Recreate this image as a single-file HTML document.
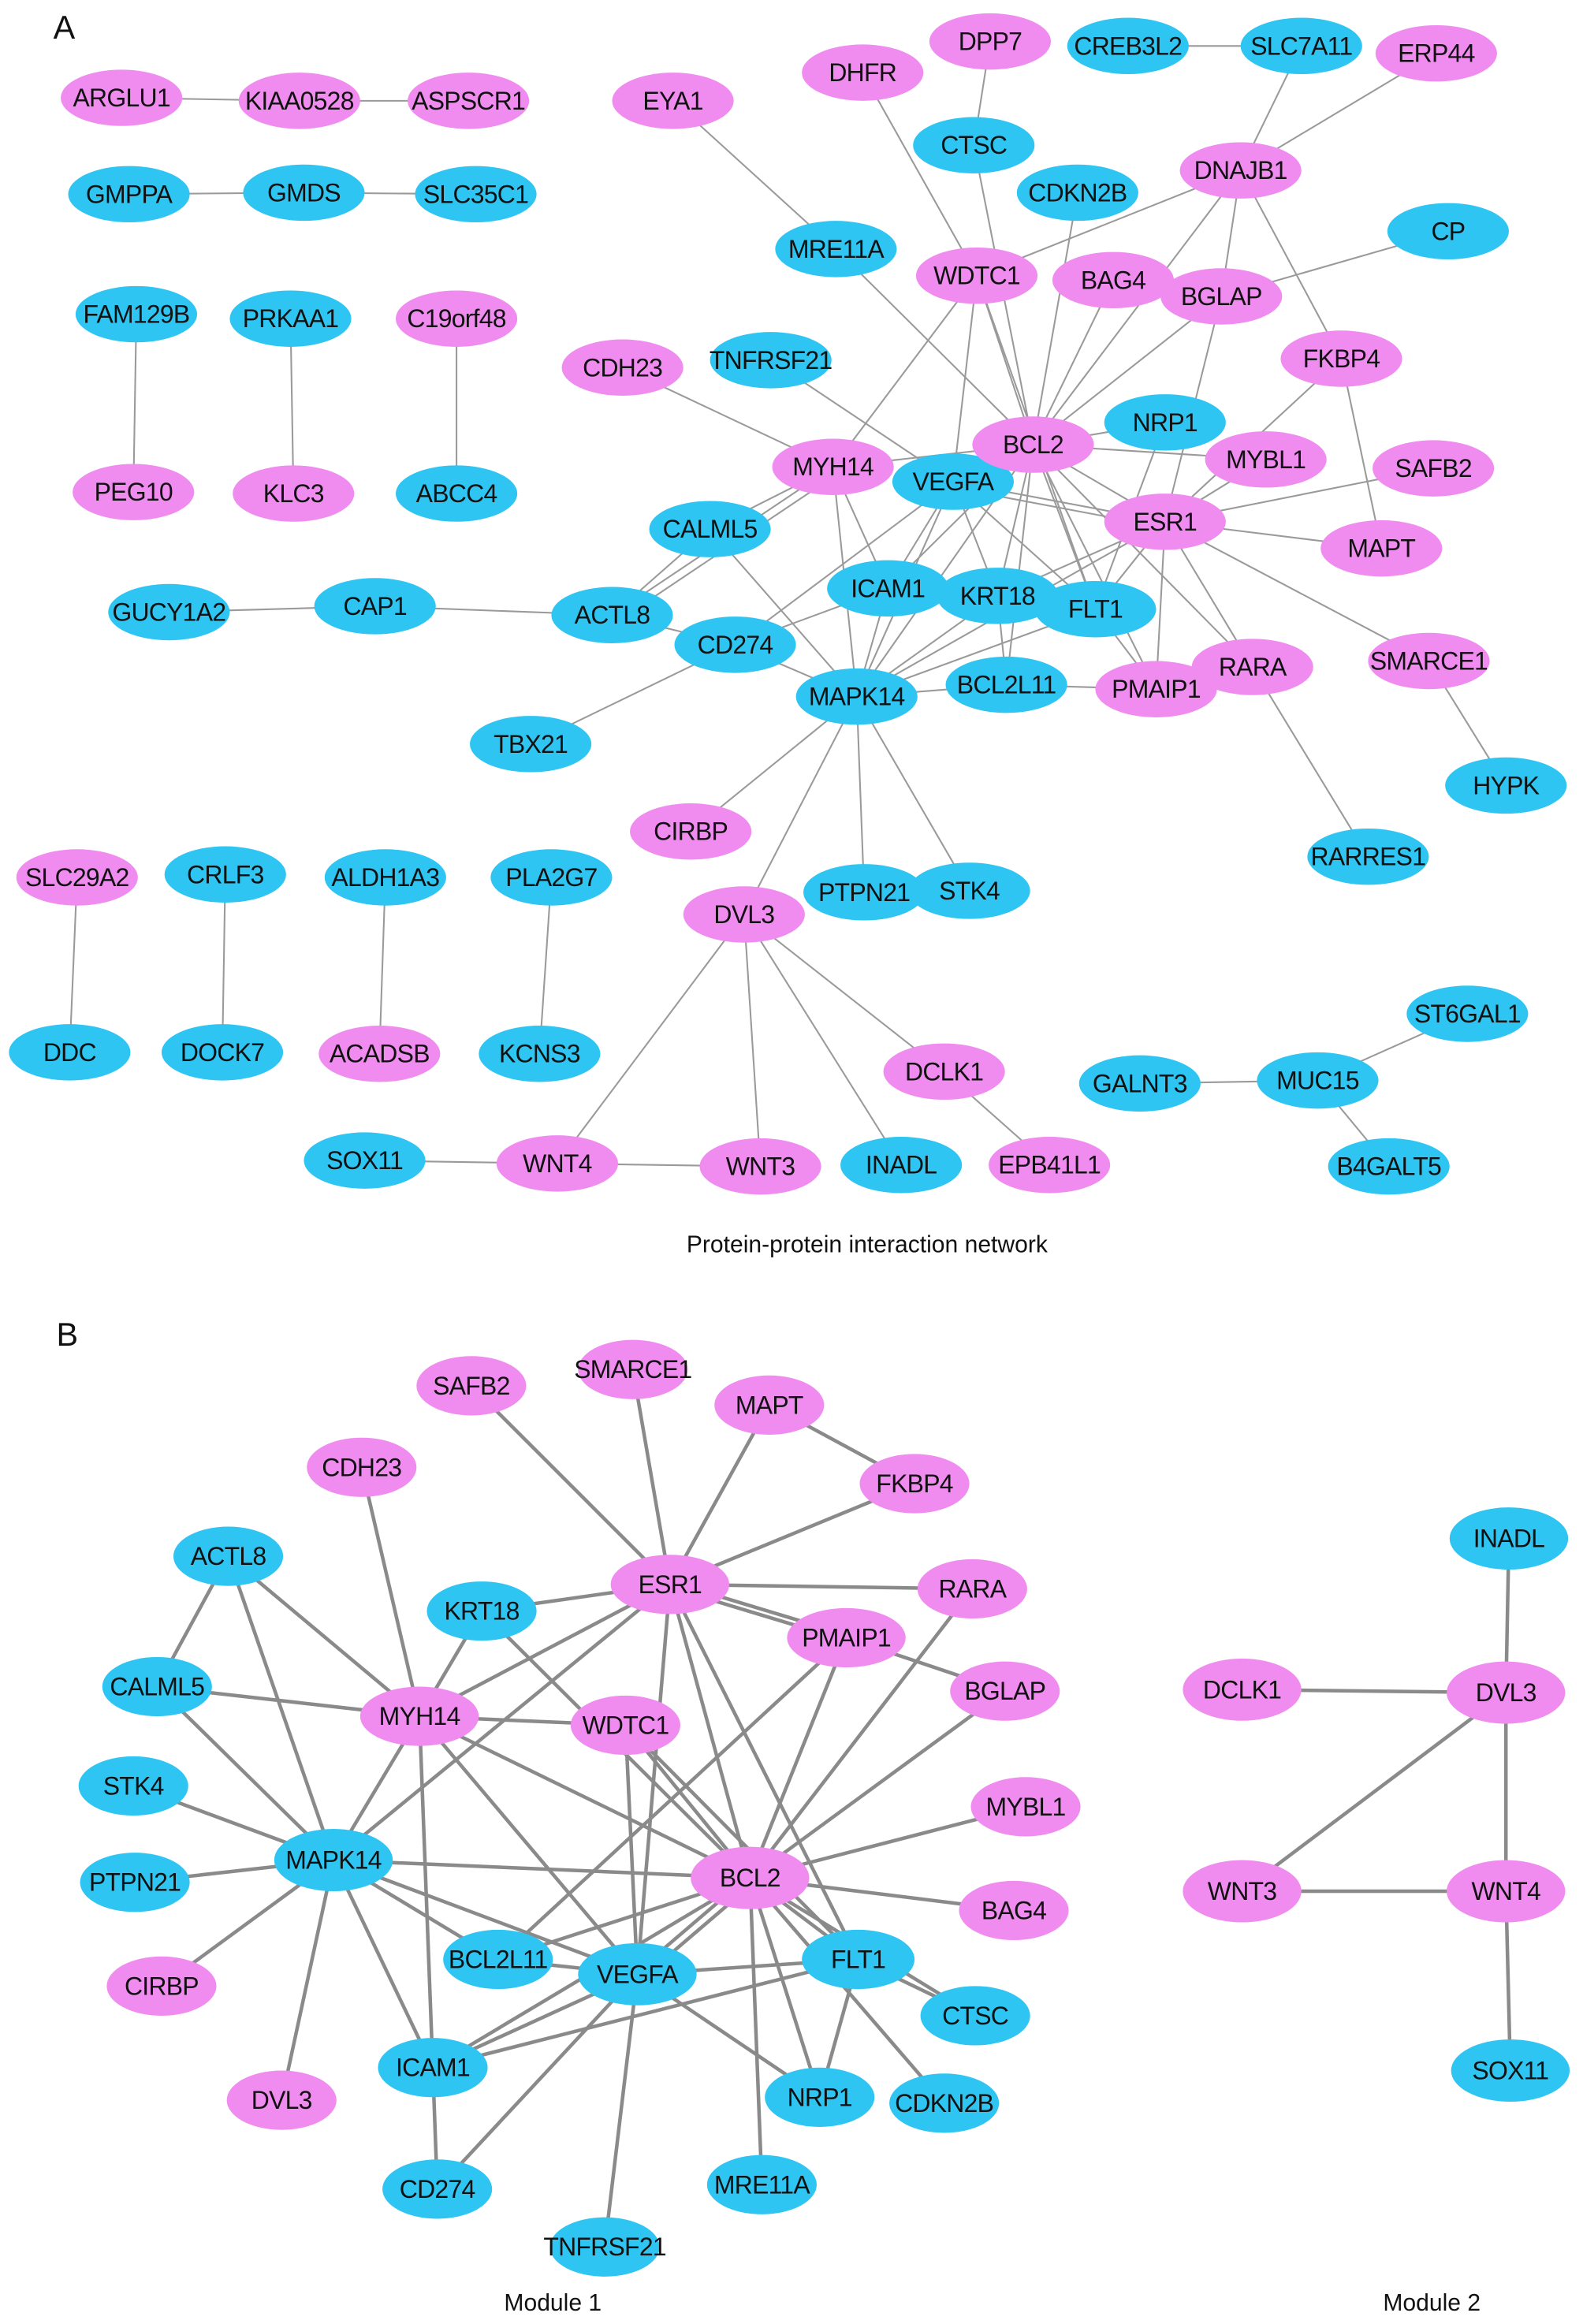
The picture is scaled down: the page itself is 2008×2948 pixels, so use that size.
<!DOCTYPE html>
<html><head><meta charset="utf-8"><style>
html,body{margin:0;padding:0;background:#fff;}
svg{display:block;}
text{font-family:"Liberation Sans",Arial,sans-serif;fill:#111;}
.n text{font-size:17px;text-anchor:middle;dominant-baseline:central;letter-spacing:-0.4px;}
.p{fill:#f08cf0;}
.b{fill:#2ec5f2;}
</style></head><body>
<svg width="2008" height="2948" viewBox="0 0 1068 1568" preserveAspectRatio="none" xmlns="http://www.w3.org/2000/svg">
<text x="36" y="26" font-size="22">A</text>
<text x="38" y="908" font-size="22">B</text>
<text x="585" y="845" font-size="16" text-anchor="middle">Protein-protein interaction network</text>
<text x="373" y="1559" font-size="16" text-anchor="middle">Module 1</text>
<text x="966" y="1559" font-size="16" text-anchor="middle">Module 2</text>

<g stroke="#9a9a9a" stroke-width="1.1">
<line x1="82" y1="66" x2="202" y2="68"/><line x1="202" y1="68" x2="316" y2="68"/>
<line x1="87" y1="131" x2="205" y2="130"/><line x1="205" y1="130" x2="321" y2="131"/>
<line x1="92" y1="212" x2="90" y2="332"/><line x1="196" y1="215" x2="198" y2="333"/><line x1="308" y1="215" x2="308" y2="333"/>
<line x1="761" y1="31" x2="878" y2="31"/><line x1="878" y1="31" x2="837" y2="115"/><line x1="969" y1="36" x2="837" y2="115"/>
<line x1="668" y1="28" x2="657" y2="98"/><line x1="454" y1="68" x2="564" y2="168"/><line x1="564" y1="168" x2="697" y2="300"/>
<line x1="582" y1="49" x2="659" y2="186"/><line x1="657" y1="98" x2="697" y2="300"/><line x1="727" y1="130" x2="697" y2="300"/>
<line x1="837" y1="115" x2="659" y2="186"/><line x1="837" y1="115" x2="697" y2="300"/><line x1="837" y1="115" x2="824" y2="200"/><line x1="837" y1="115" x2="905" y2="242"/>
<line x1="977" y1="156" x2="824" y2="200"/>
<line x1="659" y1="186" x2="697" y2="300"/><line x1="659" y1="186" x2="562" y2="315"/><line x1="659" y1="186" x2="643" y2="325"/><line x1="659" y1="186" x2="739" y2="411"/>
<line x1="751" y1="189" x2="697" y2="300"/><line x1="824" y1="200" x2="697" y2="300"/><line x1="824" y1="200" x2="786" y2="352"/>
<line x1="905" y1="242" x2="786" y2="352"/><line x1="905" y1="242" x2="932" y2="370"/>
<line x1="420" y1="248" x2="562" y2="315"/><line x1="520" y1="243" x2="643" y2="325"/>
<line x1="786" y1="285" x2="697" y2="300"/><line x1="786" y1="285" x2="739" y2="411"/>
<line x1="697" y1="300" x2="854" y2="310"/><line x1="697" y1="300" x2="643" y2="325"/><line x1="697" y1="300" x2="786" y2="352"/>
<line x1="697" y1="300" x2="578" y2="470"/><line x1="697" y1="300" x2="599" y2="397"/><line x1="697" y1="300" x2="673" y2="402"/>
<line x1="697" y1="300" x2="739" y2="411"/><line x1="697" y1="300" x2="679" y2="462"/><line x1="697" y1="300" x2="780" y2="465"/>
<line x1="697" y1="300" x2="845" y2="450"/><line x1="697" y1="300" x2="562" y2="315"/>
<line x1="967" y1="316" x2="786" y2="352"/><line x1="932" y1="370" x2="786" y2="352"/>
<line x1="786" y1="352" x2="643" y2="325"/><line x1="786" y1="356" x2="643" y2="329"/>
<line x1="786" y1="352" x2="673" y2="402"/><line x1="786" y1="352" x2="739" y2="411"/><line x1="786" y1="352" x2="780" y2="465"/>
<line x1="786" y1="352" x2="845" y2="450"/><line x1="786" y1="352" x2="964" y2="446"/><line x1="786" y1="352" x2="578" y2="470"/>
<line x1="854" y1="310" x2="786" y2="352"/>
<line x1="562" y1="315" x2="479" y2="357"/><line x1="562" y1="315" x2="413" y2="415"/><line x1="566" y1="319" x2="417" y2="419"/>
<line x1="562" y1="315" x2="599" y2="397"/><line x1="562" y1="315" x2="578" y2="470"/>
<line x1="643" y1="325" x2="578" y2="470"/><line x1="643" y1="325" x2="496" y2="435"/><line x1="643" y1="325" x2="599" y2="397"/>
<line x1="643" y1="325" x2="739" y2="411"/><line x1="643" y1="325" x2="673" y2="402"/>
<line x1="479" y1="357" x2="413" y2="415"/><line x1="479" y1="357" x2="578" y2="470"/>
<line x1="114" y1="413" x2="253" y2="409"/><line x1="253" y1="409" x2="413" y2="415"/>
<line x1="413" y1="415" x2="496" y2="435"/><line x1="496" y1="435" x2="578" y2="470"/><line x1="496" y1="435" x2="358" y2="502"/><line x1="496" y1="435" x2="599" y2="397"/>
<line x1="599" y1="397" x2="578" y2="470"/><line x1="673" y1="402" x2="578" y2="470"/><line x1="739" y1="411" x2="578" y2="470"/>
<line x1="673" y1="402" x2="679" y2="462"/><line x1="578" y1="470" x2="679" y2="462"/><line x1="679" y1="462" x2="780" y2="465"/>
<line x1="739" y1="411" x2="780" y2="465"/>
<line x1="964" y1="446" x2="1016" y2="530"/><line x1="845" y1="450" x2="923" y2="578"/>
<line x1="578" y1="470" x2="466" y2="561"/><line x1="578" y1="470" x2="502" y2="617"/><line x1="578" y1="470" x2="583" y2="602"/><line x1="578" y1="470" x2="654" y2="601"/>
<line x1="52" y1="592" x2="47" y2="710"/><line x1="152" y1="590" x2="150" y2="710"/><line x1="260" y1="592" x2="256" y2="711"/><line x1="372" y1="592" x2="364" y2="711"/>
<line x1="502" y1="617" x2="376" y2="785"/><line x1="502" y1="617" x2="513" y2="787"/><line x1="502" y1="617" x2="608" y2="786"/><line x1="502" y1="617" x2="637" y2="723"/>
<line x1="637" y1="723" x2="708" y2="786"/><line x1="246" y1="783" x2="376" y2="785"/><line x1="376" y1="785" x2="513" y2="787"/>
<line x1="769" y1="731" x2="889" y2="729"/><line x1="889" y1="729" x2="990" y2="684"/><line x1="889" y1="729" x2="937" y2="787"/>
</g>

<g stroke="#8a8a8a" stroke-width="2.4">
<line x1="318" y1="935" x2="452" y2="1069"/><line x1="427" y1="924" x2="452" y2="1069"/><line x1="519" y1="948" x2="452" y2="1069"/>
<line x1="519" y1="948" x2="617" y2="1001"/><line x1="617" y1="1001" x2="452" y2="1069"/><line x1="244" y1="990" x2="283" y2="1158"/>
<line x1="154" y1="1050" x2="106" y2="1138"/><line x1="154" y1="1050" x2="225" y2="1255"/><line x1="154" y1="1050" x2="283" y2="1158"/>
<line x1="452" y1="1069" x2="656" y2="1072"/><line x1="452" y1="1069" x2="325" y2="1087"/>
<line x1="452" y1="1067" x2="571" y2="1103"/><line x1="452" y1="1071" x2="571" y2="1107"/>
<line x1="452" y1="1069" x2="283" y2="1158"/><line x1="452" y1="1069" x2="225" y2="1255"/><line x1="452" y1="1069" x2="430" y2="1332"/>
<line x1="452" y1="1069" x2="506" y2="1267"/><line x1="452" y1="1069" x2="579" y2="1322"/>
<line x1="325" y1="1087" x2="506" y2="1267"/><line x1="325" y1="1087" x2="283" y2="1158"/>
<line x1="571" y1="1105" x2="678" y2="1141"/><line x1="571" y1="1105" x2="336" y2="1322"/><line x1="571" y1="1105" x2="506" y2="1267"/>
<line x1="656" y1="1072" x2="506" y2="1267"/><line x1="678" y1="1141" x2="506" y2="1267"/><line x1="692" y1="1219" x2="506" y2="1267"/><line x1="684" y1="1289" x2="506" y2="1267"/>
<line x1="106" y1="1138" x2="283" y2="1158"/><line x1="106" y1="1138" x2="225" y2="1255"/>
<line x1="283" y1="1158" x2="422" y2="1164"/><line x1="283" y1="1158" x2="225" y2="1255"/><line x1="283" y1="1158" x2="292" y2="1395"/>
<line x1="283" y1="1158" x2="430" y2="1332"/><line x1="283" y1="1158" x2="506" y2="1267"/>
<line x1="422" y1="1164" x2="506" y2="1267"/><line x1="422" y1="1164" x2="430" y2="1332"/><line x1="422" y1="1164" x2="579" y2="1322"/>
<line x1="90" y1="1205" x2="225" y2="1255"/><line x1="91" y1="1270" x2="225" y2="1255"/><line x1="109" y1="1340" x2="225" y2="1255"/><line x1="190" y1="1417" x2="225" y2="1255"/>
<line x1="225" y1="1255" x2="506" y2="1267"/><line x1="225" y1="1255" x2="336" y2="1322"/><line x1="225" y1="1255" x2="430" y2="1332"/><line x1="225" y1="1255" x2="292" y2="1395"/>
<line x1="506" y1="1267" x2="336" y2="1322"/><line x1="506" y1="1265" x2="430" y2="1330"/><line x1="510" y1="1269" x2="434" y2="1334"/>
<line x1="506" y1="1267" x2="292" y2="1395"/><line x1="506" y1="1267" x2="579" y2="1322"/><line x1="506" y1="1267" x2="553" y2="1415"/>
<line x1="506" y1="1267" x2="637" y2="1419"/><line x1="506" y1="1267" x2="514" y2="1474"/><line x1="506" y1="1267" x2="658" y2="1360"/>
<line x1="430" y1="1332" x2="336" y2="1322"/><line x1="430" y1="1332" x2="579" y2="1322"/><line x1="430" y1="1332" x2="292" y2="1395"/>
<line x1="430" y1="1332" x2="553" y2="1415"/><line x1="430" y1="1332" x2="295" y2="1477"/><line x1="430" y1="1332" x2="408" y2="1516"/>
<line x1="579" y1="1322" x2="292" y2="1395"/><line x1="579" y1="1322" x2="553" y2="1415"/><line x1="579" y1="1322" x2="658" y2="1360"/>
<line x1="292" y1="1395" x2="295" y2="1477"/>
<line x1="1018" y1="1038" x2="1016" y2="1142"/><line x1="838" y1="1140" x2="1016" y2="1142"/><line x1="1016" y1="1142" x2="1016" y2="1276"/>
<line x1="1016" y1="1142" x2="838" y2="1276"/><line x1="838" y1="1276" x2="1016" y2="1276"/><line x1="1016" y1="1276" x2="1019" y2="1397"/>
</g>

<g class="n">
<!-- Panel A -->
<ellipse class="p" cx="82" cy="66" rx="41" ry="19"/><text x="82" y="66">ARGLU1</text>
<ellipse class="p" cx="202" cy="68" rx="41" ry="19"/><text x="202" y="68">KIAA0528</text>
<ellipse class="p" cx="316" cy="68" rx="41" ry="19"/><text x="316" y="68">ASPSCR1</text>
<ellipse class="b" cx="87" cy="131" rx="41" ry="19"/><text x="87" y="131">GMPPA</text>
<ellipse class="b" cx="205" cy="130" rx="41" ry="19"/><text x="205" y="130">GMDS</text>
<ellipse class="b" cx="321" cy="131" rx="41" ry="19"/><text x="321" y="131">SLC35C1</text>
<ellipse class="b" cx="92" cy="212" rx="41" ry="19"/><text x="92" y="212">FAM129B</text>
<ellipse class="b" cx="196" cy="215" rx="41" ry="19"/><text x="196" y="215">PRKAA1</text>
<ellipse class="p" cx="308" cy="215" rx="41" ry="19"/><text x="308" y="215">C19orf48</text>
<ellipse class="p" cx="90" cy="332" rx="41" ry="19"/><text x="90" y="332">PEG10</text>
<ellipse class="p" cx="198" cy="333" rx="41" ry="19"/><text x="198" y="333">KLC3</text>
<ellipse class="b" cx="308" cy="333" rx="41" ry="19"/><text x="308" y="333">ABCC4</text>
<ellipse class="p" cx="454" cy="68" rx="41" ry="19"/><text x="454" y="68">EYA1</text>
<ellipse class="p" cx="582" cy="49" rx="41" ry="19"/><text x="582" y="49">DHFR</text>
<ellipse class="p" cx="668" cy="28" rx="41" ry="19"/><text x="668" y="28">DPP7</text>
<ellipse class="b" cx="761" cy="31" rx="41" ry="19"/><text x="761" y="31">CREB3L2</text>
<ellipse class="b" cx="878" cy="31" rx="41" ry="19"/><text x="878" y="31">SLC7A11</text>
<ellipse class="p" cx="969" cy="36" rx="41" ry="19"/><text x="969" y="36">ERP44</text>
<ellipse class="b" cx="657" cy="98" rx="41" ry="19"/><text x="657" y="98">CTSC</text>
<ellipse class="b" cx="727" cy="130" rx="41" ry="19"/><text x="727" y="130">CDKN2B</text>
<ellipse class="p" cx="837" cy="115" rx="41" ry="19"/><text x="837" y="115">DNAJB1</text>
<ellipse class="b" cx="977" cy="156" rx="41" ry="19"/><text x="977" y="156">CP</text>
<ellipse class="b" cx="564" cy="168" rx="41" ry="19"/><text x="564" y="168">MRE11A</text>
<ellipse class="p" cx="659" cy="186" rx="41" ry="19"/><text x="659" y="186">WDTC1</text>
<ellipse class="p" cx="751" cy="189" rx="41" ry="19"/><text x="751" y="189">BAG4</text>
<ellipse class="p" cx="824" cy="200" rx="41" ry="19"/><text x="824" y="200">BGLAP</text>
<ellipse class="p" cx="420" cy="248" rx="41" ry="19"/><text x="420" y="248">CDH23</text>
<ellipse class="b" cx="520" cy="243" rx="41" ry="19"/><text x="520" y="243">TNFRSF21</text>
<ellipse class="p" cx="905" cy="242" rx="41" ry="19"/><text x="905" y="242">FKBP4</text>
<ellipse class="b" cx="786" cy="285" rx="41" ry="19"/><text x="786" y="285">NRP1</text>
<ellipse class="p" cx="854" cy="310" rx="41" ry="19"/><text x="854" y="310">MYBL1</text>
<ellipse class="p" cx="967" cy="316" rx="41" ry="19"/><text x="967" y="316">SAFB2</text>
<ellipse class="p" cx="562" cy="315" rx="41" ry="19"/><text x="562" y="315">MYH14</text>
<ellipse class="b" cx="643" cy="325" rx="41" ry="19"/><text x="643" y="325">VEGFA</text>
<ellipse class="p" cx="697" cy="300" rx="41" ry="19"/><text x="697" y="300">BCL2</text>
<ellipse class="p" cx="786" cy="352" rx="41" ry="19"/><text x="786" y="352">ESR1</text>
<ellipse class="p" cx="932" cy="370" rx="41" ry="19"/><text x="932" y="370">MAPT</text>
<ellipse class="b" cx="479" cy="357" rx="41" ry="19"/><text x="479" y="357">CALML5</text>
<ellipse class="b" cx="599" cy="397" rx="41" ry="19"/><text x="599" y="397">ICAM1</text>
<ellipse class="b" cx="673" cy="402" rx="41" ry="19"/><text x="673" y="402">KRT18</text>
<ellipse class="b" cx="739" cy="411" rx="41" ry="19"/><text x="739" y="411">FLT1</text>
<ellipse class="b" cx="114" cy="413" rx="41" ry="19"/><text x="114" y="413">GUCY1A2</text>
<ellipse class="b" cx="253" cy="409" rx="41" ry="19"/><text x="253" y="409">CAP1</text>
<ellipse class="b" cx="413" cy="415" rx="41" ry="19"/><text x="413" y="415">ACTL8</text>
<ellipse class="b" cx="496" cy="435" rx="41" ry="19"/><text x="496" y="435">CD274</text>
<ellipse class="b" cx="578" cy="470" rx="41" ry="19"/><text x="578" y="470">MAPK14</text>
<ellipse class="b" cx="679" cy="462" rx="41" ry="19"/><text x="679" y="462">BCL2L11</text>
<ellipse class="p" cx="845" cy="450" rx="41" ry="19"/><text x="845" y="450">RARA</text>
<ellipse class="p" cx="780" cy="465" rx="41" ry="19"/><text x="780" y="465">PMAIP1</text>
<ellipse class="p" cx="964" cy="446" rx="41" ry="19"/><text x="964" y="446">SMARCE1</text>
<ellipse class="b" cx="358" cy="502" rx="41" ry="19"/><text x="358" y="502">TBX21</text>
<ellipse class="b" cx="1016" cy="530" rx="41" ry="19"/><text x="1016" y="530">HYPK</text>
<ellipse class="p" cx="466" cy="561" rx="41" ry="19"/><text x="466" y="561">CIRBP</text>
<ellipse class="b" cx="923" cy="578" rx="41" ry="19"/><text x="923" y="578">RARRES1</text>
<ellipse class="p" cx="52" cy="592" rx="41" ry="19"/><text x="52" y="592">SLC29A2</text>
<ellipse class="b" cx="152" cy="590" rx="41" ry="19"/><text x="152" y="590">CRLF3</text>
<ellipse class="b" cx="260" cy="592" rx="41" ry="19"/><text x="260" y="592">ALDH1A3</text>
<ellipse class="b" cx="372" cy="592" rx="41" ry="19"/><text x="372" y="592">PLA2G7</text>
<ellipse class="p" cx="502" cy="617" rx="41" ry="19"/><text x="502" y="617">DVL3</text>
<ellipse class="b" cx="583" cy="602" rx="41" ry="19"/><text x="583" y="602">PTPN21</text>
<ellipse class="b" cx="654" cy="601" rx="41" ry="19"/><text x="654" y="601">STK4</text>
<ellipse class="b" cx="47" cy="710" rx="41" ry="19"/><text x="47" y="710">DDC</text>
<ellipse class="b" cx="150" cy="710" rx="41" ry="19"/><text x="150" y="710">DOCK7</text>
<ellipse class="p" cx="256" cy="711" rx="41" ry="19"/><text x="256" y="711">ACADSB</text>
<ellipse class="b" cx="364" cy="711" rx="41" ry="19"/><text x="364" y="711">KCNS3</text>
<ellipse class="p" cx="637" cy="723" rx="41" ry="19"/><text x="637" y="723">DCLK1</text>
<ellipse class="b" cx="990" cy="684" rx="41" ry="19"/><text x="990" y="684">ST6GAL1</text>
<ellipse class="b" cx="769" cy="731" rx="41" ry="19"/><text x="769" y="731">GALNT3</text>
<ellipse class="b" cx="889" cy="729" rx="41" ry="19"/><text x="889" y="729">MUC15</text>
<ellipse class="b" cx="937" cy="787" rx="41" ry="19"/><text x="937" y="787">B4GALT5</text>
<ellipse class="b" cx="246" cy="783" rx="41" ry="19"/><text x="246" y="783">SOX11</text>
<ellipse class="p" cx="376" cy="785" rx="41" ry="19"/><text x="376" y="785">WNT4</text>
<ellipse class="p" cx="513" cy="787" rx="41" ry="19"/><text x="513" y="787">WNT3</text>
<ellipse class="b" cx="608" cy="786" rx="41" ry="19"/><text x="608" y="786">INADL</text>
<ellipse class="p" cx="708" cy="786" rx="41" ry="19"/><text x="708" y="786">EPB41L1</text>

<!-- Panel B -->
<ellipse class="p" cx="318" cy="935" rx="37" ry="20"/><text x="318" y="935">SAFB2</text>
<ellipse class="p" cx="427" cy="924" rx="37" ry="20"/><text x="427" y="924">SMARCE1</text>
<ellipse class="p" cx="519" cy="948" rx="37" ry="20"/><text x="519" y="948">MAPT</text>
<ellipse class="p" cx="244" cy="990" rx="37" ry="20"/><text x="244" y="990">CDH23</text>
<ellipse class="p" cx="617" cy="1001" rx="37" ry="20"/><text x="617" y="1001">FKBP4</text>
<ellipse class="b" cx="154" cy="1050" rx="37" ry="20"/><text x="154" y="1050">ACTL8</text>
<ellipse class="p" cx="452" cy="1069" rx="40" ry="20"/><text x="452" y="1069">ESR1</text>
<ellipse class="p" cx="656" cy="1072" rx="37" ry="20"/><text x="656" y="1072">RARA</text>
<ellipse class="b" cx="325" cy="1087" rx="37" ry="20"/><text x="325" y="1087">KRT18</text>
<ellipse class="p" cx="571" cy="1105" rx="40" ry="20"/><text x="571" y="1105">PMAIP1</text>
<ellipse class="b" cx="106" cy="1138" rx="37" ry="20"/><text x="106" y="1138">CALML5</text>
<ellipse class="p" cx="678" cy="1141" rx="37" ry="20"/><text x="678" y="1141">BGLAP</text>
<ellipse class="p" cx="283" cy="1158" rx="40" ry="20"/><text x="283" y="1158">MYH14</text>
<ellipse class="p" cx="422" cy="1164" rx="37" ry="20"/><text x="422" y="1164">WDTC1</text>
<ellipse class="b" cx="90" cy="1205" rx="37" ry="20"/><text x="90" y="1205">STK4</text>
<ellipse class="p" cx="692" cy="1219" rx="37" ry="20"/><text x="692" y="1219">MYBL1</text>
<ellipse class="b" cx="225" cy="1255" rx="40" ry="21"/><text x="225" y="1255">MAPK14</text>
<ellipse class="p" cx="506" cy="1267" rx="40" ry="21"/><text x="506" y="1267">BCL2</text>
<ellipse class="b" cx="91" cy="1270" rx="37" ry="20"/><text x="91" y="1270">PTPN21</text>
<ellipse class="p" cx="684" cy="1289" rx="37" ry="20"/><text x="684" y="1289">BAG4</text>
<ellipse class="b" cx="336" cy="1322" rx="37" ry="20"/><text x="336" y="1322">BCL2L11</text>
<ellipse class="b" cx="430" cy="1332" rx="40" ry="21"/><text x="430" y="1332">VEGFA</text>
<ellipse class="b" cx="579" cy="1322" rx="38" ry="20"/><text x="579" y="1322">FLT1</text>
<ellipse class="b" cx="658" cy="1360" rx="37" ry="20"/><text x="658" y="1360">CTSC</text>
<ellipse class="p" cx="109" cy="1340" rx="37" ry="20"/><text x="109" y="1340">CIRBP</text>
<ellipse class="b" cx="292" cy="1395" rx="37" ry="20"/><text x="292" y="1395">ICAM1</text>
<ellipse class="b" cx="553" cy="1415" rx="37" ry="20"/><text x="553" y="1415">NRP1</text>
<ellipse class="b" cx="637" cy="1419" rx="37" ry="20"/><text x="637" y="1419">CDKN2B</text>
<ellipse class="p" cx="190" cy="1417" rx="37" ry="20"/><text x="190" y="1417">DVL3</text>
<ellipse class="b" cx="295" cy="1477" rx="37" ry="20"/><text x="295" y="1477">CD274</text>
<ellipse class="b" cx="514" cy="1474" rx="37" ry="20"/><text x="514" y="1474">MRE11A</text>
<ellipse class="b" cx="408" cy="1516" rx="37" ry="20"/><text x="408" y="1516">TNFRSF21</text>
<ellipse class="b" cx="1018" cy="1038" rx="40" ry="21"/><text x="1018" y="1038">INADL</text>
<ellipse class="p" cx="838" cy="1140" rx="40" ry="21"/><text x="838" y="1140">DCLK1</text>
<ellipse class="p" cx="1016" cy="1142" rx="40" ry="21"/><text x="1016" y="1142">DVL3</text>
<ellipse class="p" cx="838" cy="1276" rx="40" ry="21"/><text x="838" y="1276">WNT3</text>
<ellipse class="p" cx="1016" cy="1276" rx="40" ry="21"/><text x="1016" y="1276">WNT4</text>
<ellipse class="b" cx="1019" cy="1397" rx="40" ry="21"/><text x="1019" y="1397">SOX11</text>
</g>
</svg>
</body></html>
